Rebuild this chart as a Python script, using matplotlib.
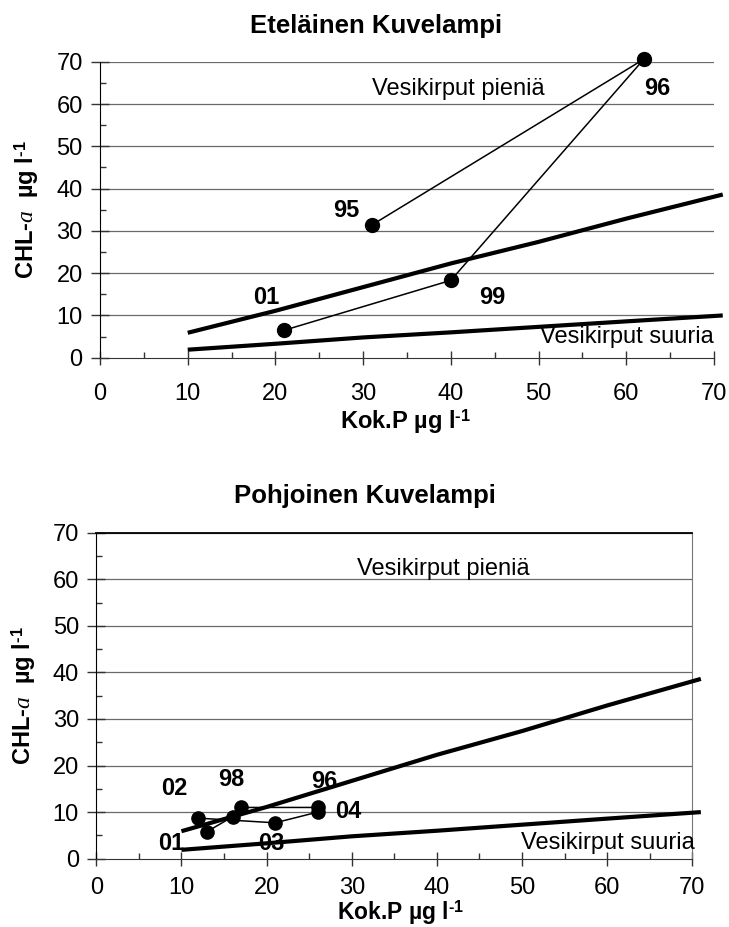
import matplotlib
matplotlib.use("Agg")
import matplotlib.pyplot as plt
from matplotlib.ticker import MultipleLocator

plt.rcParams["font.family"] = ["Liberation Sans", "DejaVu Sans"]
plt.rcParams["mathtext.fontset"] = "custom"
plt.rcParams["mathtext.rm"] = "Liberation Sans"
plt.rcParams["mathtext.bf"] = "Liberation Sans:bold"
plt.rcParams["mathtext.it"] = "Liberation Serif:italic"

# limit lines (same in both panels)
limit_x = [10, 20, 30, 40, 50, 60, 71]
upper_y = [5.9, 11.1, 16.7, 22.3, 27.4, 32.9, 38.6]
lower_y = [1.9, 3.3, 4.8, 6.0, 7.3, 8.6, 10.0]

# Eteläinen Kuvelampi, in path order
south_p = [31, 62, 40, 21]
south_chl = [31.4, 70.6, 18.3, 6.5]
south_years = ["95", "96", "99", "01"]
south_lab_xy = [(28.1, 34.9), (63.5, 63.7), (44.7, 14.2), (18.9, 14.2)]

# Pohjoinen Kuvelampi, in path order
north_p = [26, 17, 16, 13, 12, 21, 26]
north_chl = [11.0, 11.0, 9.0, 5.8, 8.7, 7.7, 10.0]
north_years = ["96", "98", "01", "02", "03", "04"]
north_lab_xy = [(26.8, 16.5), (15.9, 16.9), (8.8, 3.3), (9.2, 15.1), (20.6, 3.3), (29.6, 10.1)]

grid_c = "#6a6a6a"

fig = plt.figure(figsize=(7.29, 9.27), dpi=100)
ax1 = fig.add_axes([0.1372, 0.6141, 0.8422, 0.3193])
ax2 = fig.add_axes([0.1321, 0.0737, 0.8176, 0.3517])


def style(ax, boxed, xpad):
    ax.set_xlim(0, 70)
    ax.set_ylim(0, 70)
    ax.xaxis.set_major_locator(MultipleLocator(10))
    ax.xaxis.set_minor_locator(MultipleLocator(5))
    ax.yaxis.set_major_locator(MultipleLocator(10))
    ax.yaxis.set_minor_locator(MultipleLocator(5))
    ax.tick_params(axis="x", which="major", direction="inout", length=10, width=1,
                   pad=xpad, labelsize=17, color="#333333")
    ax.tick_params(axis="y", which="major", direction="inout", length=13, width=1,
                   pad=6, labelsize=17, color="#333333")
    ax.tick_params(which="minor", direction="in", length=4.5, width=1, color="#333333")
    for y in range(10, 71, 10):
        ax.axhline(y, color=grid_c, lw=0.9, zorder=1)
    ax.spines["left"].set_color("black")
    ax.spines["bottom"].set_color("#333333")
    if boxed:
        ax.spines["top"].set_color("black")
        ax.spines["top"].set_linewidth(1.3)
        ax.spines["right"].set_color("#777777")
    else:
        ax.spines["top"].set_visible(False)
        ax.spines["right"].set_visible(False)
    ax.plot(limit_x, upper_y, color="black", lw=3, clip_on=False, zorder=3,
            solid_capstyle="butt")
    ax.plot(limit_x, lower_y, color="black", lw=3, clip_on=False, zorder=3,
            solid_capstyle="butt")


style(ax1, boxed=False, xpad=13)
ax1.plot(south_p, south_chl, color="black", lw=1.1, marker="o", ms=10, zorder=4,
         clip_on=False)
for (lx, ly), t in zip(south_lab_xy, south_years):
    ax1.text(lx, ly, t, fontsize=17, fontweight="bold", ha="center", va="center")
ax1.text(40.9, 63.5, "Vesikirput pieniä", fontsize=17, ha="center", va="center")
ax1.text(60.1, 5.0, "Vesikirput suuria", fontsize=17, ha="center", va="center")

style(ax2, boxed=True, xpad=8.5)
ax2.plot(north_p, north_chl, color="black", lw=1.1, marker="o", ms=9.5, zorder=4)
for (lx, ly), t in zip(north_lab_xy, north_years):
    ax2.text(lx, ly, t, fontsize=17, fontweight="bold", ha="center", va="center")
ax2.text(40.8, 62.3, "Vesikirput pieniä", fontsize=17, ha="center", va="center")
ax2.text(60.1, 3.3, "Vesikirput suuria", fontsize=17, ha="center", va="center")

fig.text(0.5158, 0.9644, "Eteläinen Kuvelampi", fontsize=18.5, fontweight="bold",
         ha="center", va="baseline")
fig.text(0.5007, 0.4574, "Pohjoinen Kuvelampi", fontsize=18.5, fontweight="bold",
         ha="center", va="baseline")

ylab = r"CHL-$\mathit{a}$  µg l$^{\mathbf{‐1}}$"
xlab = r"Kok.P µg l$^{\mathbf{‐1}}$"
fig.text(0.037, 0.7738, ylab, fontsize=17, fontweight="bold", rotation=90,
         ha="center", va="center")
fig.text(0.033, 0.2495, ylab, fontsize=17, fontweight="bold", rotation=90,
         ha="center", va="center")
fig.text(0.5567, 0.5372, xlab, fontsize=17, fontweight="bold", ha="center", va="baseline")
fig.text(0.5497, 0.0075, xlab, fontsize=16.5, fontweight="bold", ha="center",
         va="baseline")

fig.savefig("out.png", dpi=100)
